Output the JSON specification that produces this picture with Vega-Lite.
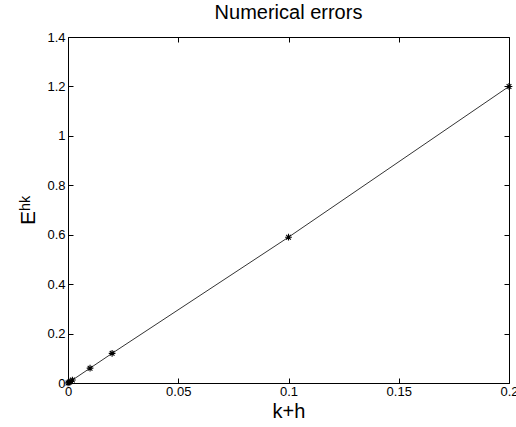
{
  "$schema": "https://vega.github.io/schema/vega-lite/v6.json",
  "width": 441,
  "height": 346,
  "autosize": {"type": "none"},
  "padding": {"left": 68, "top": 37, "right": 7, "bottom": 44},
  "background": "white",
  "title": {"text": "Numerical errors", "font": "Liberation Sans", "fontSize": 20, "fontWeight": "normal", "color": "black", "offset": 8, "anchor": "middle"},
  "config": {
    "view": {"stroke": null},
    "axis": {"grid": false, "domainColor": "black", "domainWidth": 1, "tickColor": "black", "tickWidth": 1, "labelFont": "Liberation Sans", "labelFontSize": 13, "labelColor": "black", "titleFont": "Liberation Sans", "titleFontWeight": "normal", "titleColor": "black"}
  },
  "data": {"values": [
    {"kh": 0, "E": 0},
    {"kh": 0.0005, "E": 0.003},
    {"kh": 0.001, "E": 0.006},
    {"kh": 0.002, "E": 0.012},
    {"kh": 0.01, "E": 0.06},
    {"kh": 0.02, "E": 0.12},
    {"kh": 0.1, "E": 0.59},
    {"kh": 0.2, "E": 1.2}
  ]},
  "resolve": {"axis": {"x": "independent", "y": "independent"}},
  "layer": [
    {
      "layer": [
        {
          "mark": {"type": "line", "color": "black", "strokeWidth": 0.8},
          "encoding": {
            "x": {"field": "kh", "type": "quantitative", "scale": {"domain": [0, 0.2], "nice": false}, "axis": {"values": [0, 0.05, 0.1, 0.15, 0.2], "format": "~g", "tickSize": -5, "labelPadding": 7, "title": "k+h", "titleFontSize": 20, "titlePadding": 3, "labelFlush": false}},
            "y": {"field": "E", "type": "quantitative", "scale": {"domain": [0, 1.4], "nice": false}, "axis": {"values": [0, 0.2, 0.4, 0.6, 0.8, 1, 1.2, 1.4], "format": "~g", "tickSize": -5, "labelPadding": 8, "title": "Eʰᵏ", "titleFontSize": 21, "titlePadding": 8}}
          }
        },
        {
          "mark": {"type": "point", "shape": "M-1,0L1,0M0,-1L0,1M-0.7,-0.7L0.7,0.7M-0.7,0.7L0.7,-0.7", "filled": false, "stroke": "black", "strokeWidth": 1.1, "size": 45, "opacity": 1},
          "encoding": {
            "x": {"field": "kh", "type": "quantitative"},
            "y": {"field": "E", "type": "quantitative"}
          }
        }
      ]
    },
    {
      "mark": {"type": "point", "opacity": 0},
      "encoding": {
        "x": {"field": "kh", "type": "quantitative", "axis": {"orient": "top", "values": [0, 0.05, 0.1, 0.15, 0.2], "labels": false, "tickSize": -5, "title": null}},
        "y": {"field": "E", "type": "quantitative", "axis": {"orient": "right", "values": [0, 0.2, 0.4, 0.6, 0.8, 1, 1.2, 1.4], "labels": false, "tickSize": -5, "title": null}}
      }
    }
  ]
}
